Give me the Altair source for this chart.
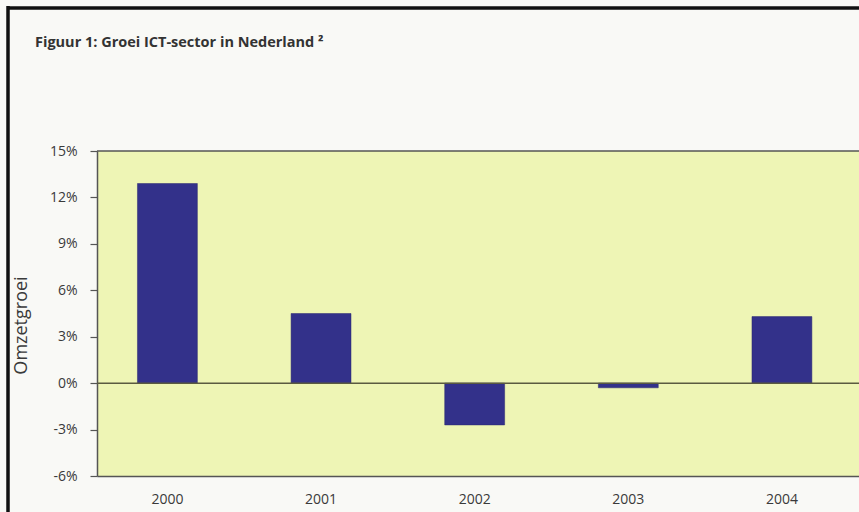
import altair as alt
import pandas as pd

years = ["2000", "2001", "2002", "2003", "2004"]
growth = [12.9, 4.5, -2.7, -0.3, 4.3]
y_ticks = [-6, -3, 0, 3, 6, 9, 12, 15]
title_text = ["Figuur 1: Groei ICT-sector in Nederland \u00b2"]

df = pd.DataFrame({"jaar": years, "groei": growth})

label_expr = "datum.value + '%'"

bars = alt.Chart(df).mark_bar(color="#33318a", stroke="#2a2870", strokeWidth=0.5).encode(
    x=alt.X("jaar:N",
            scale=alt.Scale(paddingInner=0.61, paddingOuter=0.285, align=0.462),
            axis=alt.Axis(title=None, labelAngle=0, ticks=False, labelPadding=16,
                          labelFontSize=14, labelColor="#3a3a3a", labelFont="Open Sans",
                          domain=True, domainColor="#555555", domainWidth=1.5)),
    y=alt.Y("groei:Q",
            scale=alt.Scale(domain=[-6, 15], nice=False),
            axis=alt.Axis(values=y_ticks, labelExpr=label_expr, title="Omzetgroei",
                          grid=False, tickSize=7, tickColor="#555555", tickWidth=1.2,
                          labelPadding=13, labelFontSize=14, labelColor="#3a3a3a",
                          labelFont="Open Sans",
                          domainColor="#555555", domainWidth=1.5,
                          titleFontSize=18, titleFontWeight="normal", titleColor="#3a3a3a",
                          titleFont="Open Sans", titleX=-76, titleY=174,
                          titleBaseline="middle", titleAlign="center")),
)

zero = alt.Chart(pd.DataFrame({"v": [0]})).mark_rule(color="#5a5a40", strokeWidth=1.5).encode(
    y="v:Q"
)

top_line = alt.Chart(pd.DataFrame({"v": [15]})).mark_rule(color="#555555", strokeWidth=1.5).encode(
    y="v:Q"
)

frame_top = alt.Chart(pd.DataFrame({"a": [1]})).mark_rule(color="#111111", strokeWidth=3.5).encode(
    x=alt.value(-89), x2=alt.value(770), y=alt.value(-143)
)
frame_left = alt.Chart(pd.DataFrame({"a": [1]})).mark_rule(color="#111111", strokeWidth=3.5).encode(
    x=alt.value(-89), y=alt.value(-145), y2=alt.value(370)
)

title = alt.Chart(pd.DataFrame({"t": title_text})).mark_text(
    align="left", baseline="alphabetic", fontSize=14.5, fontWeight="bold",
    color="#333333", font="Open Sans"
).encode(
    text="t:N", x=alt.value(-62), y=alt.value(-104)
)

chart = alt.layer(bars, zero, top_line, frame_top, frame_left, title).properties(
    width=762,
    height=325,
    autosize=alt.AutoSizeParams(type="none"),
    padding={"left": 97, "top": 151, "right": 0, "bottom": 36},
    background="#f9f9f6",
).configure_view(fill="#eef5b5", stroke=None)

chart.save("out.html", embed_options={"renderer": "svg", "actions": False})
